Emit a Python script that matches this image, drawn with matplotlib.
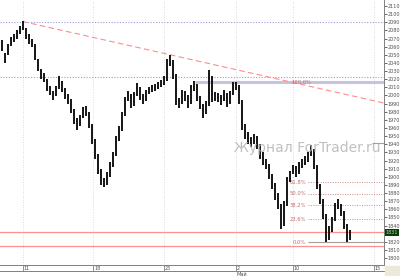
import matplotlib.pyplot as plt
import matplotlib.transforms as mtransforms
from matplotlib.patches import Rectangle

# OHLC-ish bars (high/low), hourly bars
highs = [2068, 2052, 2063, 2072, 2075, 2080, 2085, 2092, 2083, 2075,
         2070, 2063, 2045, 2032, 2028, 2020, 2012, 2006, 2012, 2024,
         2018, 2009, 2002, 1996, 1983, 1972, 1976, 1986, 1987, 1980,
         1965, 1946, 1928, 1910, 1898, 1906, 1918, 1930, 1950, 1962,
         1980, 1998, 2006, 2002, 2004, 2015, 2010, 2002, 2007, 2011,
         2013, 2014, 2017, 2019, 2024, 2045, 2050, 2044, 2026, 1997,
         2007, 2005, 2000, 2013, 2018, 2014, 1999, 1990, 1993, 2031,
         2024, 2004, 2003, 2000, 2007, 2003, 2005, 2016, 2017, 2013,
         1995, 1965, 1955, 1949, 1953, 1950, 1940, 1930, 1922, 1916,
         1904, 1892, 1880, 1866, 1870, 1900, 1907, 1915, 1913, 1918,
         1922, 1925, 1930, 1939, 1934, 1915, 1891, 1873, 1854, 1840,
         1850, 1868, 1873, 1866, 1858, 1842, 1834]
lows = [2055, 2040, 2050, 2061, 2066, 2069, 2075, 2080, 2070, 2063,
        2059, 2043, 2030, 2020, 2016, 2005, 2001, 1994, 1999, 2008,
        2004, 1996, 1990, 1978, 1965, 1958, 1962, 1972, 1975, 1960,
        1940, 1922, 1903, 1890, 1887, 1890, 1900, 1912, 1925, 1944,
        1956, 1975, 1993, 1985, 1987, 1999, 1995, 1989, 1993, 2002,
        2004, 2005, 2008, 2010, 2013, 2018, 2036, 2020, 1988, 1985,
        1989, 1993, 1985, 1990, 2005, 1993, 1983, 1972, 1977, 1987,
        1992, 1993, 1992, 1988, 1993, 1986, 1989, 2000, 2007, 1990,
        1958, 1946, 1940, 1937, 1940, 1934, 1922, 1915, 1909, 1897,
        1885, 1872, 1860, 1836, 1840, 1864, 1893, 1903, 1900, 1904,
        1911, 1915, 1918, 1925, 1910, 1885, 1866, 1848, 1820, 1822,
        1832, 1845, 1860, 1852, 1836, 1820, 1822]

date_pos = [7, 30.5, 54, 78, 97, 124]
date_labels = ["11", "18", "25", "2", "10", "15"]
price_ticks = [1800, 1810, 1820, 1840, 1850, 1860, 1870, 1880, 1890, 1900,
               1910, 1920, 1930, 1940, 1950, 1960, 1970, 1980, 1990, 2000,
               2010, 2020, 2030, 2040, 2050, 2060, 2070, 2080, 2090, 2100, 2110]
last_price = 1831

fib_levels = [0.0, 23.6, 38.2, 50.0, 61.8]
fib_low, fib_high = 1819.7, 1939.0

fig = plt.figure(figsize=(4, 2.76), dpi=100)
ax = fig.add_axes([0, 11 / 276, 384 / 400, 265 / 276])
ax.set_xlim(-0.5, 127.5)
ax.set_ylim(1791.5, 2117.4)

for x in date_pos:
    ax.axvline(x, color="#cfcfcf", ls=(0, (1, 2)), lw=0.6, zorder=0)

# horizontal objects
ax.axhline(2090.3, color="#9a9ae0", ls=(0, (1, 1.5)), lw=0.8, zorder=1)
ax.axhline(2022.7, color="#9a9ae0", ls=(0, (1, 1.5)), lw=0.8, zorder=1)
ax.hlines(2016.5, 64.5, 127.5, color="#c4c4e2", lw=2.2, zorder=1)
ax.text(96.5, 2016.5, "100.0%", fontsize=3.8, color="#b07878",
        ha="left", va="center", zorder=2)
ax.plot([7, 127.5], [2091, 1990.7], color="#ff8c8c", ls=(0, (5, 3)), lw=0.8, zorder=1)
ax.axhline(1832, color="#ff9090", lw=0.9, zorder=1)
ax.axhline(1814.8, color="#ff9090", lw=0.9, zorder=1)

for lev in fib_levels:
    p = fib_low + (fib_high - fib_low) * lev / 100
    if lev == 0:
        ax.hlines(p, 102, 127.5, color="#a0a0a0", lw=0.8, zorder=1)
    else:
        ax.hlines(p, 102, 127.5, color="#d08888", ls=(0, (1, 1.5)), lw=0.7, zorder=1)
    ax.text(101.5, p, "%.1f%%" % lev, fontsize=3.8, color="#c07070",
            ha="right", va="center", zorder=2)
ax.hlines(1941.5, 123.5, 127.5, color="#9a9ae0", lw=0.8, zorder=1)

# price bars
ax.vlines(range(len(highs)), lows, highs, color="#151515", lw=1.4, zorder=3)

ax.text(102, 1935, "Журнал ForTrader.ru", fontsize=10, color="#b5b5b5",
        ha="center", va="center", alpha=0.85, zorder=4)

# axes styling
for s in ["left", "top"]:
    ax.spines[s].set_visible(False)
ax.spines["right"].set_color("#808080")
ax.spines["bottom"].set_color("#808080")
ax.spines["right"].set_linewidth(0.7)
ax.spines["bottom"].set_linewidth(0.7)
ax.yaxis.tick_right()
ax.set_yticks(price_ticks)
ax.set_yticklabels([str(t) for t in price_ticks])
ax.tick_params(axis="y", direction="out", length=2, width=0.6, pad=0.4,
               labelsize=3.5, colors="#505050")
ax.set_xticks([])

ax.text(1.004, last_price, str(last_price), transform=ax.get_yaxis_transform(),
        fontsize=3.5, color="#9be09b", ha="left", va="center",
        bbox=dict(boxstyle="square,pad=0.2", fc="#0b3b0b", ec="none"), clip_on=False)

# date axis strip
trans = mtransforms.blended_transform_factory(ax.transData, ax.transAxes)
ax.plot([-0.5, 127.5], [-6 / 265, -6 / 265], color="#808080", lw=0.7,
        transform=trans, clip_on=False)
for x, lab in zip(date_pos, date_labels):
    ax.plot([x, x], [0, -6 / 265], color="#808080", lw=0.6, transform=trans, clip_on=False)
    ax.text(x + 0.4, -3 / 265, lab, fontsize=3.6, color="#505050", ha="left",
            va="center", transform=trans, clip_on=False)
ax.text(78.4, -9 / 265, "Май", fontsize=3.6, color="#505050", ha="left",
        va="center", transform=trans, clip_on=False)

fig.patches.append(Rectangle((385 / 400, 0), 15 / 400, 10 / 276,
                             transform=fig.transFigure, color="#ece9d8"))

fig.savefig("out.png", dpi=100)
